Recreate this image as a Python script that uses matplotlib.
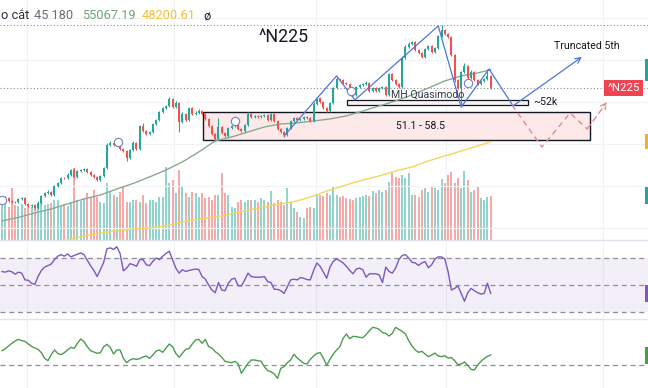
'''
    ^N225 daily chart: candles + volume, MA 45/180, RSI and a second oscillator,
    with the hand drawn wave count on top.
'''

import numpy as np
import matplotlib.pyplot as plt
import matplotlib.transforms as mtransforms
from matplotlib.patches import Rectangle
from matplotlib.lines import Line2D

plt.rcParams['font.family'] = ['Roboto', 'DejaVu Sans']

# ---------------- data ----------------
first_open = 42700
closes = [42760, 42860, 42570, 42480, 42450, 42760, 42860, 42290, 42100, 42190,
          41900, 42380, 43050, 43330, 43430, 43140, 44000, 44290, 44760, 44740,
          45050, 45520, 44860, 45430, 45520, 45620, 45330, 45050, 44860, 44570,
          44950, 45710, 47900, 48100, 47900, 48000, 47520, 47330, 46670, 47430,
          48100, 47520, 49710, 49240, 48950, 49140, 49900, 50290, 51050, 51430,
          51620, 52290, 51520, 51900, 50100, 50860, 50290, 51430, 50860, 50950,
          51140, 50860, 50380, 49710, 48950, 48480, 49620, 49050, 48760, 49520,
          49710, 50100, 49430, 49240, 49810, 50860, 50570, 50670, 50570, 50670,
          50760, 50290, 50860, 50190, 49430, 49140, 48860, 49520, 50190, 50480,
          50290, 50380, 50570, 50480, 50190, 51810, 52380, 52000, 51430, 51140,
          51900, 53330, 54190, 54100, 53810, 53710, 53140, 52670, 53430, 53620,
          53710, 53810, 53050, 53330, 53050, 53330, 53430, 52670, 54670, 54100,
          53710, 53430, 56190, 57240, 57520, 57710, 56950, 56670, 56290, 57050,
          57330, 56760, 57140, 58290, 58860, 58480, 58190, 56480, 54100, 53330,
          54860, 55430, 54290, 54860, 54100, 53710, 54000, 54190, 54480, 53330]
highs = [42900, 43000, 42950, 42650, 42600, 42850, 42950, 42950, 42400, 42300,
         42250, 42550, 43150, 43450, 43600, 43550, 44100, 44400, 44900, 44900,
         45200, 45650, 45700, 45550, 45650, 45750, 45700, 45400, 45150, 44950,
         45050, 45800, 48050, 48300, 48200, 48150, 48050, 47600, 47400, 47550,
         48250, 48150, 49850, 50000, 49350, 49250, 50000, 50400, 51150, 51550,
         51750, 52450, 52400, 52050, 52000, 51000, 50950, 51550, 51500, 51100,
         51300, 51250, 50950, 50450, 49800, 49050, 50480, 49700, 49150, 49600,
         49850, 50250, 50200, 49500, 49900, 51000, 50950, 50800, 50750, 50800,
         50900, 50900, 50950, 50950, 50250, 49500, 49200, 49600, 50300, 50600,
         50550, 50500, 50700, 50650, 50550, 51950, 52500, 52450, 52050, 51500,
         52000, 53450, 54350, 54300, 54200, 53900, 53800, 53200, 53550, 53750,
         53850, 53950, 53900, 53450, 53400, 53450, 53550, 53500, 54800, 54750,
         54200, 53800, 56350, 57400, 57700, 57850, 57800, 57050, 56750, 57150,
         57450, 57400, 57250, 58400, 59330, 58950, 58550, 58250, 56550, 54200,
         54950, 55700, 55500, 55000, 54950, 54200, 54100, 54300, 55140, 54550]
lows = [42560, 42650, 42450, 42380, 42350, 42400, 42700, 42200, 41950, 42000,
        41800, 41850, 42300, 42950, 43250, 43050, 43050, 43900, 44200, 44650,
        44650, 44950, 44750, 44780, 45350, 45450, 45250, 44950, 44750, 44480,
        44500, 44900, 45650, 47800, 47800, 47850, 47400, 47200, 46400, 46600,
        47350, 47400, 47450, 49150, 48850, 48850, 49050, 49800, 50200, 50950,
        51350, 51550, 51400, 51400, 49150, 50000, 50200, 50200, 50750, 50800,
        50850, 50750, 50300, 49600, 48850, 48380, 48400, 48950, 48650, 48700,
        49450, 49650, 49350, 49150, 49150, 49750, 50480, 50480, 50480, 50500,
        50600, 50200, 50200, 50100, 49350, 49050, 48700, 48800, 49450, 50100,
        50200, 50200, 50300, 50400, 50100, 50100, 51750, 51900, 51350, 51050,
        51050, 51850, 53250, 54000, 53700, 53600, 53050, 52550, 52600, 53350,
        53550, 53650, 52950, 52950, 52950, 52950, 53250, 52550, 52600, 54000,
        53600, 53330, 53350, 56100, 57150, 57450, 56850, 56550, 56150, 56200,
        56950, 56650, 56650, 57050, 58200, 58380, 58050, 56350, 53900, 53200,
        51520, 54750, 54150, 54200, 54000, 53600, 53600, 53900, 54100, 53250]
volumes = [1750, 1850, 1650, 2600, 1750, 1700, 1800, 1600, 1750, 1650,
           1700, 1850, 2000, 1750, 1800, 1850, 2000, 2000, 1700, 1800,
           1700, 1900, 3600, 2000, 1950, 2100, 2350, 2150, 2500, 2150,
           1900, 1850, 2850, 2400, 2250, 2150, 2400, 2650, 1900, 1900,
           2000, 2000, 1900, 2250, 1850, 2000, 2000, 1900, 2150, 2150,
           3650, 2850, 3000, 2350, 3500, 2650, 2350, 2150, 2400, 2350,
           2150, 2350, 2100, 2150, 2000, 2250, 2250, 3350, 2350, 2250,
           1650, 1600, 1900, 2000, 1900, 2000, 2000, 2000, 1900, 2100,
           2000, 1900, 2450, 1850, 2000, 1900, 1750, 2600, 1850, 1600,
           1400, 1150, 1100, 1600, 1650, 1600, 2250, 2250, 2200, 2350,
           2250, 2700, 2250, 2150, 2200, 2100, 2050, 2000, 2100, 2150,
           2200, 2250, 2200, 2450, 2350, 2500, 2400, 2500, 2900, 3350,
           3150, 3100, 3250, 3100, 3350, 2250, 2250, 2150, 2500, 2600,
           2400, 2650, 2600, 2500, 3050, 2850, 3250, 3400, 2850, 3100,
           2600, 3450, 3000, 2400, 2500, 2700, 2100, 2000, 2150, 2200]
rsi = [60.0, 59.5, 60.5, 59.8, 58.0, 59.5, 58.8, 53.8, 53.5, 51.3,
       50.5, 56.3, 60.8, 63.3, 64.3, 65.5, 68.8, 71.3, 72.5, 71.3,
       73.0, 70.8, 71.8, 72.8, 73.8, 72.5, 68.3, 64.3, 60.8, 56.3,
       61.3, 66.8, 76.8, 77.5, 76.3, 78.3, 73.3, 60.5, 62.5, 65.8,
       65.0, 63.8, 68.8, 68.8, 65.0, 64.3, 67.5, 70.0, 68.8, 71.3,
       73.3, 75.0, 68.8, 62.5, 58.8, 61.3, 60.0, 60.8, 61.3, 61.8,
       61.5, 56.3, 54.3, 50.0, 46.3, 44.3, 51.8, 46.3, 45.8, 51.3,
       54.3, 55.0, 49.5, 49.3, 53.8, 58.8, 56.3, 55.8, 55.8, 55.8,
       56.3, 52.5, 51.8, 46.8, 46.8, 45.8, 43.8, 48.8, 53.8, 54.3,
       53.8, 55.5, 55.0, 54.0, 53.8, 60.8, 66.3, 63.8, 59.5, 55.0,
       63.3, 67.5, 69.3, 68.0, 66.3, 63.8, 60.8, 58.3, 61.8, 62.5,
       61.3, 55.8, 58.3, 58.3, 58.3, 57.5, 51.8, 63.3, 60.0, 58.8,
       62.5, 68.8, 71.8, 72.5, 70.0, 66.8, 66.3, 64.5, 66.3, 67.3,
       62.8, 65.0, 69.3, 70.8, 70.8, 69.3, 60.0, 46.3, 47.5, 49.3,
       43.8, 38.0, 44.3, 47.5, 45.8, 44.3, 43.3, 43.8, 51.3, 43.8]
osc = [41.5, 44.5, 48.5, 52.5, 56.0, 58.5, 56.5, 55.5, 51.5, 48.0,
       45.5, 43.5, 38.5, 30.0, 26.5, 35.5, 42.5, 37.5, 35.5, 38.5,
       42.5, 46.5, 45.0, 52.5, 59.0, 55.0, 47.5, 41.5, 39.5, 37.5,
       38.5, 47.5, 51.0, 46.5, 36.5, 42.5, 42.5, 30.0, 23.5, 27.5,
       29.5, 28.5, 29.5, 32.0, 33.5, 30.0, 35.0, 41.0, 42.5, 39.0,
       45.5, 51.5, 47.5, 37.5, 31.5, 37.5, 43.5, 44.5, 51.5, 57.5,
       58.5, 52.5, 58.5, 47.5, 45.5, 40.0, 36.5, 31.5, 25.5, 24.5,
       23.5, 25.5, 21.5, 7.5, 15.0, 22.5, 27.5, 27.5, 26.5, 25.5,
       17.5, 11.5, 10.0, 6.5, 0.0, 15.0, 17.5, 23.5, 27.5, 36.0,
       30.5, 26.5, 22.5, 21.5, 28.5, 33.5, 37.5, 38.5, 30.0, 19.5,
       28.5, 36.5, 42.5, 47.5, 60.0, 66.5, 59.5, 63.0, 62.5, 61.5,
       61.0, 65.5, 71.5, 76.5, 75.5, 73.5, 68.5, 67.5, 63.5, 67.5,
       76.5, 73.5, 70.5, 66.5, 56.5, 48.5, 42.5, 39.0, 40.5, 36.5,
       32.5, 35.0, 38.0, 33.5, 32.5, 34.0, 30.5, 31.0, 26.5, 20.5,
       21.5, 24.5, 19.5, 13.5, 12.5, 19.5, 25.5, 29.5, 33.0, 35.0]

# moving averages, sampled every 5 bars (+ last bar)
ma_bars = list(range(0, 150, 5)) + [149]
ma_fast = [40670, 41000, 41430, 41810, 42290, 42760, 43140, 43710, 44240, 44860,
           45520, 46290, 47240, 48290, 48670, 49140, 49620, 49900, 50000, 50190,
           50380, 50670, 51140, 51620, 52100, 52670, 53330, 54000, 54480, 54760, 55070]
ma_slow = [37900, 38140, 38380, 38620, 38860, 39240, 39520, 39710, 39900, 40000,
           40190, 40570, 40860, 41050, 41330, 41710, 42000, 42290, 42570, 43050,
           43620, 44100, 44570, 44950, 45430, 45810, 46380, 46860, 47330, 47810, 48200]
ma_labels = ['55067.19', '48200.61']

# drawings (bar index, price)
month_bars = [7.6, 52.4, 95.7, 135.4, 183.2]
price_grid = [40000, 44000, 48000, 52000, 56000, 60000]
wave_bars = [86, 102, 107.6, 133, 140, 148.5, 155.8]
wave_prices = [48760, 54480, 52190, 59240, 51520, 55140, 51620]
target_bar, target_price = 176.8, 56290
alt_bars = [155.5, 164.6, 173.2, 178.4, 184.5]
alt_prices = [51710, 47710, 50950, 49430, 52000]
pivot_bars = [0, 35.4, 71, 106.4, 142]
pivot_prices = [42670, 48190, 50190, 53050, 53810]
zone_bars = (61.3, 179.3)
zone_prices = (48380, 51050)
qm_bars = (105.2, 160.4)
qm_prices = (51710, 52190)
high_level = 59330

GREEN, RED = '#26a69a', '#ef5350'
VOL_GREEN, VOL_RED = '#93d3cd', '#f5aaa8'

# ---------------- layout ----------------
W, H = 648, 388
fig = plt.figure(figsize=(W / 100, H / 100), dpi=100)
ax = fig.add_axes([0, 1 - 239.5 / H, 1, 239.5 / H])
axv = ax.twinx()
ax_rsi = fig.add_axes([0, 70 / H, 1, 78 / H])
ax_osc = fig.add_axes([0, 0, 1, 69 / H])

xlim = (-0.61, 196.95)
for a in (ax, axv, ax_rsi, ax_osc):
    a.set_xlim(*xlim)
    a.set_xticks([])
    a.set_yticks([])
    for s in a.spines.values():
        s.set_visible(False)
ax.set_ylim(38900, 61710)
axv.set_ylim(0, 11975)
ax_rsi.set_ylim(25.6, 83.3)
ax_osc.set_ylim(-14.5, 89)
ax.set_zorder(axv.get_zorder() + 1)
ax.patch.set_visible(False)

for a in (axv, ax_rsi, ax_osc):
    for m in month_bars:
        a.axvline(m, color='#eff1f5', lw=0.8, zorder=0)
for p in price_grid:
    ax.axhline(p, color='#f0f2f6', lw=0.8, zorder=0)

# ---------------- price + volume ----------------
idx = np.arange(len(closes))
c = np.array(closes)
o = np.array([first_open] + closes[:-1])
up = c >= o
colors = np.where(up, GREEN, RED)

axv.bar(idx, volumes, width=0.62, color=np.where(up, VOL_GREEN, VOL_RED), zorder=1)

ax.vlines(idx, lows, highs, colors=colors, lw=0.8, zorder=4)
body = np.maximum(np.abs(c - o), 40)
ax.bar(idx, body, bottom=np.minimum(o, c), width=0.62, color=colors, zorder=4)

ax.plot(ma_bars, ma_fast, color='#8aaa90', lw=1.0, zorder=3)
ax.plot(ma_bars, ma_slow, color='#f3d55e', lw=1.0, zorder=3)

ax.axhline(high_level, color='#8a8d96', lw=0.8, ls=(0, (1, 2)), zorder=2)
ax.axhline(closes[-1], color='#8a8d96', lw=0.8, ls=(0, (1, 2)), zorder=2)

# zones
ax.add_patch(Rectangle((zone_bars[0], zone_prices[0]), zone_bars[1] - zone_bars[0],
                       zone_prices[1] - zone_prices[0], fc='#fde9e9', ec='#131722',
                       lw=1.0, zorder=2))
ax.text(127.7, sum(zone_prices) / 2, '51.1 - 58.5',
        ha='center', va='center', fontsize=7.6, color='#131722', zorder=6)
ax.add_patch(Rectangle((qm_bars[0], qm_prices[0]), qm_bars[1] - qm_bars[0],
                       qm_prices[1] - qm_prices[0], fc='#fbf3f3', ec='#131722',
                       lw=0.9, zorder=2))
ax.text(129.9, 52660, 'MH Quasimodo', ha='center', va='center', fontsize=7.6,
        color='#363a45', zorder=6)
ax.text(qm_bars[1] + 1.5, sum(qm_prices) / 2, '~52k', ha='left', va='center',
        fontsize=7.6, color='#131722', zorder=6)

# wave count
ax.plot(wave_bars, wave_prices, color='#5175d6', lw=0.9, zorder=5)
ax.annotate('', xy=(target_bar, target_price), xytext=(wave_bars[-1], wave_prices[-1]),
            arrowprops=dict(arrowstyle='->', color='#5175d6', lw=0.9,
                            shrinkA=0, shrinkB=0), zorder=5)
ax.text(target_bar + 1.5, target_price + 560, 'Truncated 5th', ha='center',
        va='bottom', fontsize=7.6, color='#131722', zorder=6)
ax.plot(alt_bars[:-1], alt_prices[:-1], color='#e28b8b', lw=1.0,
        ls=(0, (4, 3)), zorder=5)
ax.annotate('', xy=(alt_bars[-1], alt_prices[-1]), xytext=(alt_bars[-2], alt_prices[-2]),
            arrowprops=dict(arrowstyle='->', color='#e28b8b', lw=1.0, ls=(0, (4, 3)),
                            shrinkA=0, shrinkB=0), zorder=5)
ax.scatter(pivot_bars, pivot_prices, s=36, facecolors='white', edgecolors='#6f80c4',
           linewidths=0.8, zorder=6)

# symbol tag on last price
ax.text(189.6, closes[-1], '^N225', ha='center', va='center', fontsize=8.2,
        color='white', zorder=7,
        bbox=dict(boxstyle='square,pad=0.3', fc='#ef4452', ec='none'))

# ---------------- RSI ----------------
ax_rsi.axhspan(30, 70, color='#7e57c2', alpha=0.09, lw=0, zorder=0)
for lvl in (70, 50, 30):
    ax_rsi.axhline(lvl, color='#8c8f99', lw=0.9, ls=(0, (4, 3)), zorder=1)
ax_rsi.plot(idx, rsi, color='#7e57c2', lw=1.0, zorder=3)

# ---------------- oscillator ----------------
ax_osc.axhline(20, color='#8c8f99', lw=0.9, ls=(0, (4, 3)), zorder=1)
ax_osc.plot(idx, osc, color='#4c9c51', lw=1.0, zorder=3)

# price-scale tags cut by the right edge
tag_specs = [(ax, ma_fast[-1], 2100, GREEN), (ax, ma_slow[-1], 1430, '#f0b429'),
             (axv, volumes[-1], 850, GREEN), (ax_rsi, rsi[-1], 12.6, '#7e57c2'),
             (ax_osc, osc[-1], 25.5, '#43a047')]
for a, val, h, col in tag_specs:
    tr = mtransforms.blended_transform_factory(a.transAxes, a.transData)
    a.add_patch(Rectangle((645 / W, val - h / 2), 0.02, h, transform=tr, fc=col,
                          ec='none', clip_on=False, zorder=8))

# pane separators
for yp in (239.5, 318.5):
    fig.add_artist(Line2D([0, 1], [1 - yp / H] * 2, color='#e0e3eb', lw=1.0))

# ---------------- legend / title ----------------
ly = 1 - 15.5 / H
fig.text(1 / W, ly, 'o cắt', ha='left', va='center', fontsize=9.2, color='#2a2e39')
fig.text(34 / W, ly, '45 180', ha='left', va='center', fontsize=9.2, color='#6a6d78')
fig.text(82 / W, ly, ma_labels[0], ha='left', va='center', fontsize=9.2, color='#6fa57a')
fig.text(142 / W, ly, ma_labels[1], ha='left', va='center', fontsize=9.2, color='#f0c23c')
fig.text(203 / W, ly, 'ø', ha='left', va='center', fontsize=9.2, color='#2a2e39')
fig.text(283 / W, 1 - 37 / H, '^N225', ha='center', va='center', fontsize=12.8,
         color='#131722')

fig.savefig('out.png', dpi=100)
